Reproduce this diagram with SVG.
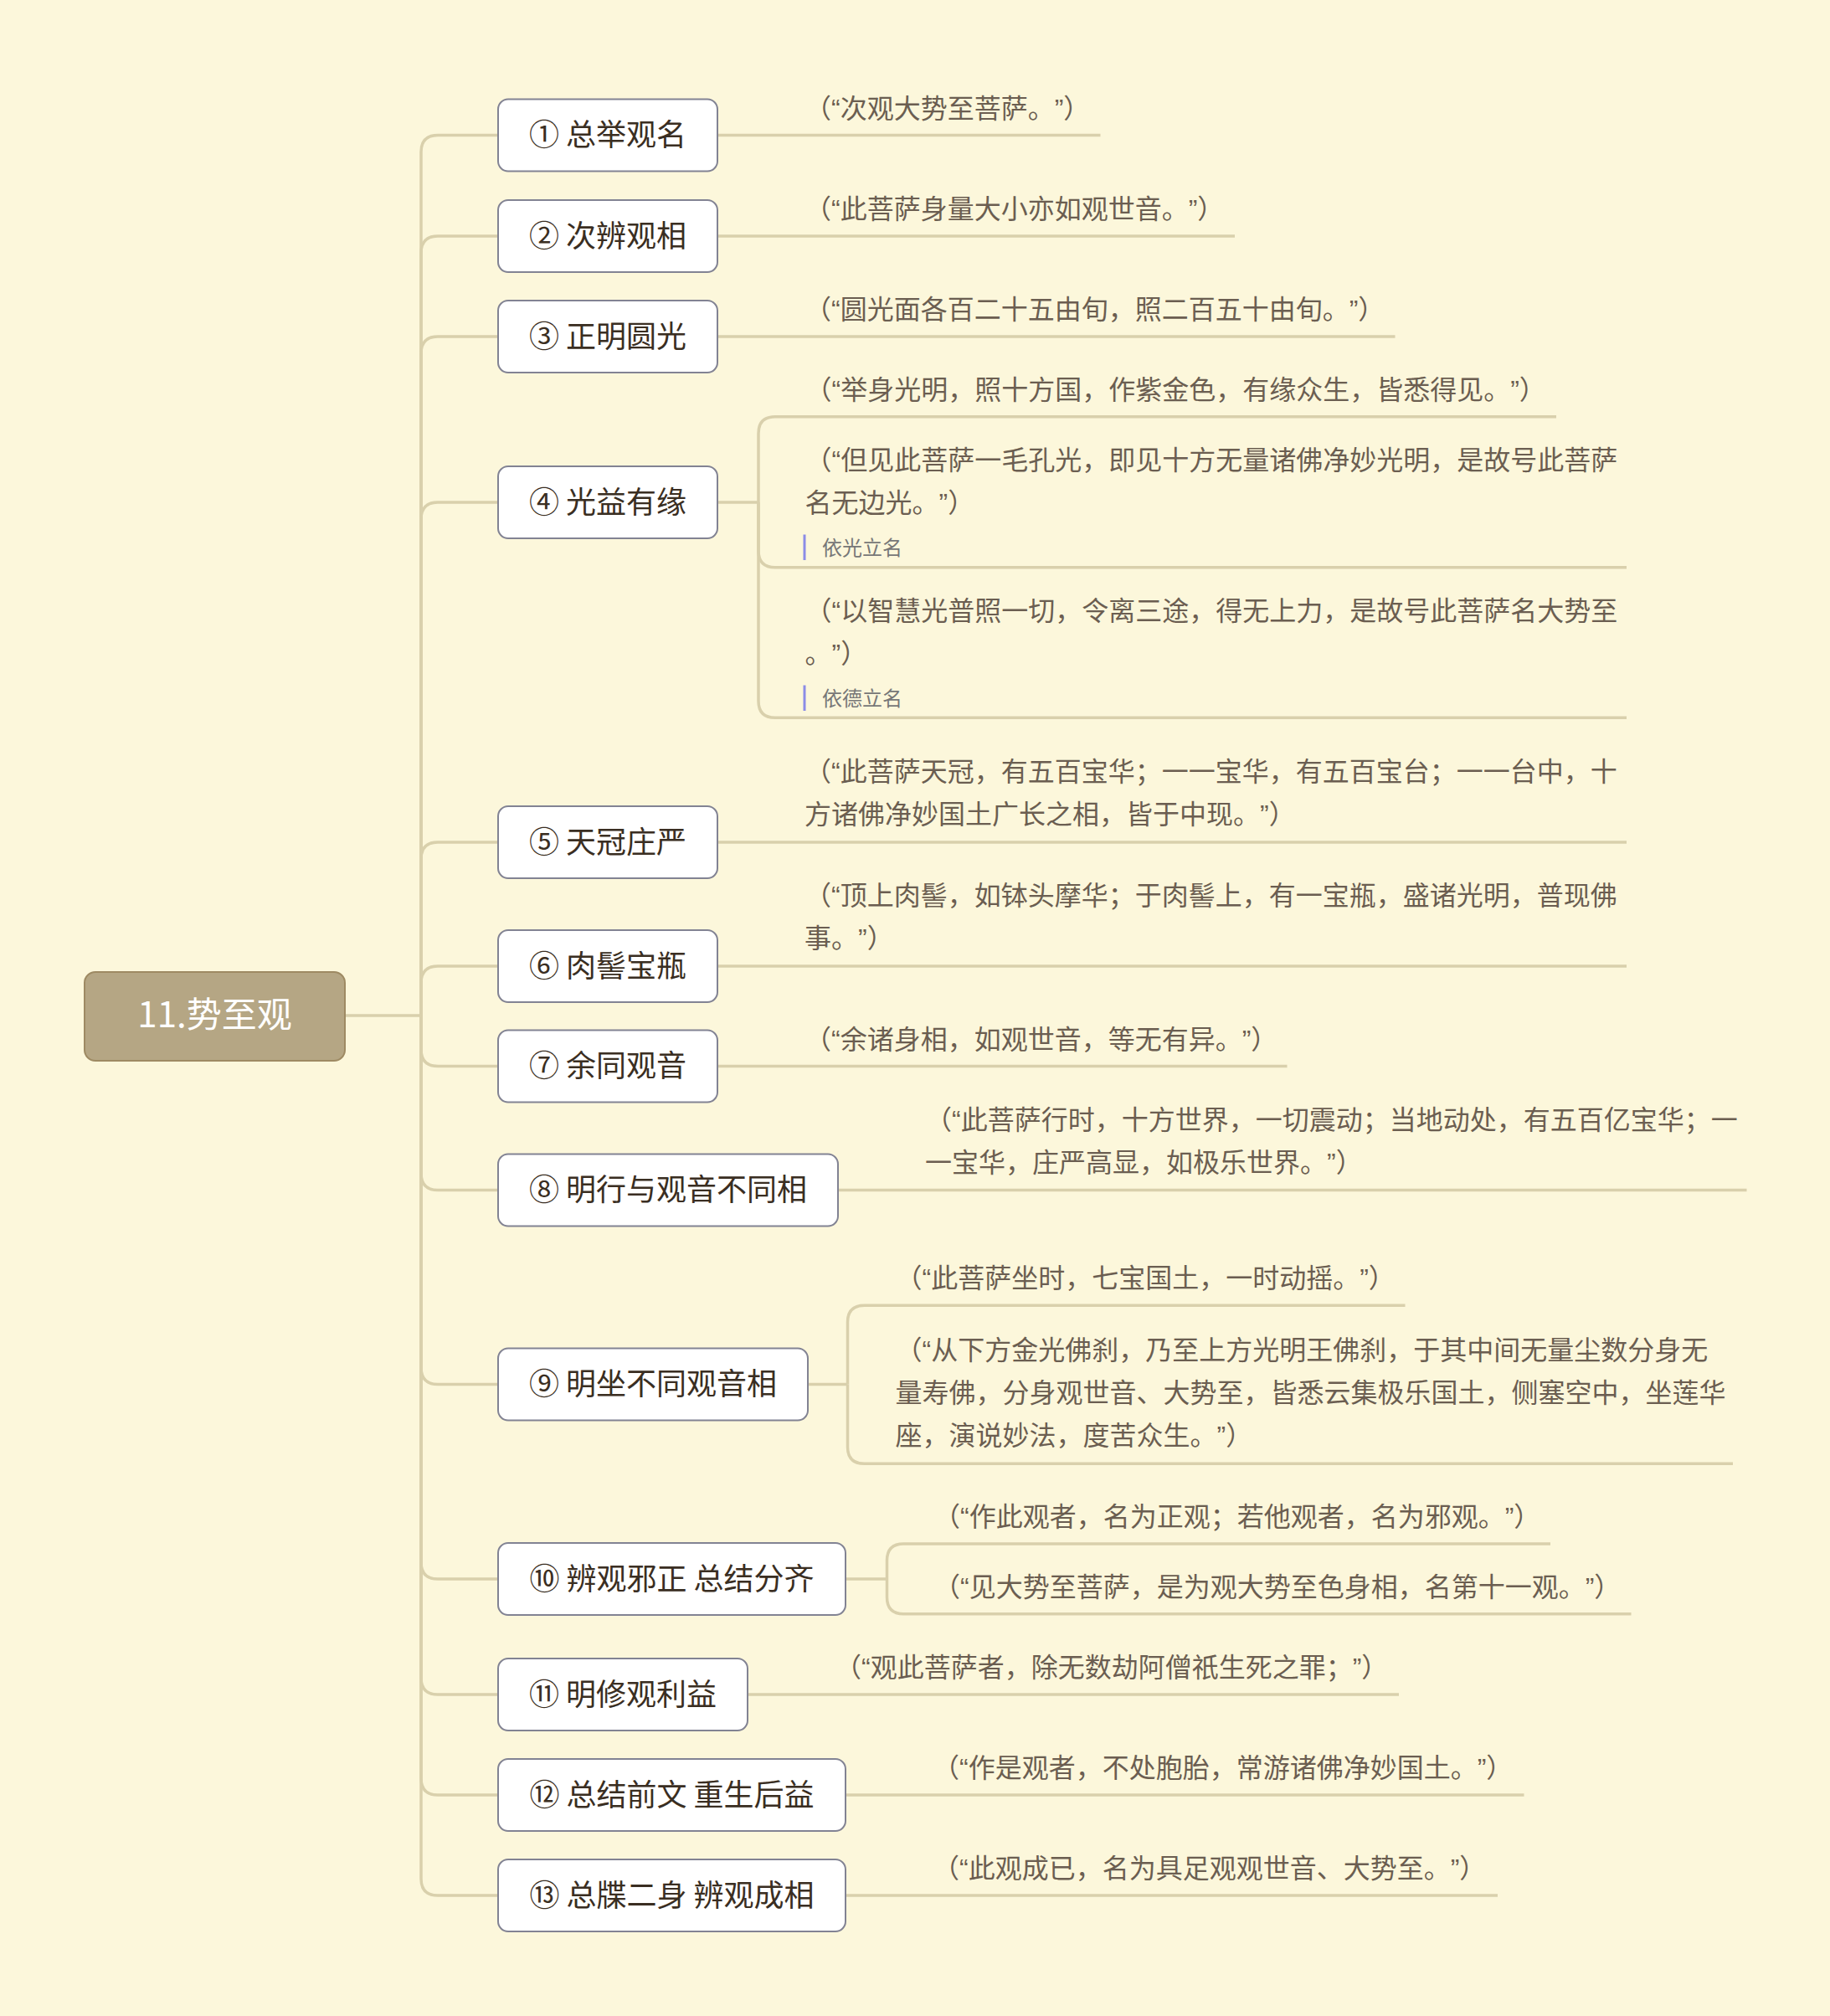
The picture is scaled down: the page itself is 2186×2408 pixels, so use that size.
<svg xmlns="http://www.w3.org/2000/svg" width="2186" height="2408" viewBox="0 0 2186 2408">
<style>
.bg{fill:#fcf7db}
.con{fill:none;stroke:#d9d0ac;stroke-width:3.5;stroke-linecap:butt}
.box{fill:#ffffff;stroke:#828393;stroke-width:2}
.bt{font-family:"Noto Sans CJK SC",sans-serif;font-size:36px;fill:#3a2e22;text-anchor:middle}
.lt{font-family:"Liberation Sans","Noto Sans CJK SC",sans-serif;font-size:32px;fill:#6b5e51;text-spacing-trim:space-all}
.lab{font-family:"Noto Sans CJK SC",sans-serif;font-size:24px;fill:#777777}
.bar{stroke:#8c8ce6;stroke-width:3}
.root{fill:#b5a684;stroke:#9e8a63;stroke-width:2}
.rt{font-family:"Noto Sans CJK SC",sans-serif;font-size:42px;fill:#ffffff;text-anchor:middle}
</style>
<rect class="bg" x="0" y="0" width="2186" height="2408"/>
<g id="connectors">
<path class="con" d="M412,1213 H503"/>
<path class="con" d="M503,1213 V181.5 Q503,161.5 523,161.5 H595"/>
<path class="con" d="M503,1213 V302 Q503,282 523,282 H595"/>
<path class="con" d="M503,1213 V422 Q503,402 523,402 H595"/>
<path class="con" d="M503,1213 V620 Q503,600 523,600 H595"/>
<path class="con" d="M503,1213 V1026 Q503,1006 523,1006 H595"/>
<path class="con" d="M503,1213 V1174 Q503,1154 523,1154 H595"/>
<path class="con" d="M503,1213 V1253.5 Q503,1273.5 523,1273.5 H595"/>
<path class="con" d="M503,1213 V1401.5 Q503,1421.5 523,1421.5 H595"/>
<path class="con" d="M503,1213 V1633.5 Q503,1653.5 523,1653.5 H595"/>
<path class="con" d="M503,1213 V1866 Q503,1886 523,1886 H595"/>
<path class="con" d="M503,1213 V2004 Q503,2024 523,2024 H595"/>
<path class="con" d="M503,1213 V2124 Q503,2144 523,2144 H595"/>
<path class="con" d="M503,1213 V2244 Q503,2264 523,2264 H595"/>
<path class="con" d="M857,161.5 H1314.5"/>
<path class="con" d="M857,282 H1475"/>
<path class="con" d="M857,402 H1666.5"/>
<path class="con" d="M857,600 H906"/>
<path class="con" d="M906,600 V517.7 Q906,497.7 926,497.7 H1859"/>
<path class="con" d="M906,600 V657.7 Q906,677.7 926,677.7 H1943"/>
<path class="con" d="M906,600 V837.3 Q906,857.3 926,857.3 H1943"/>
<path class="con" d="M857,1006 H1943"/>
<path class="con" d="M857,1154 H1943"/>
<path class="con" d="M857,1273.5 H1537.5"/>
<path class="con" d="M1001,1421.5 H2086.5"/>
<path class="con" d="M965,1653.5 H1012.5"/>
<path class="con" d="M1012.5,1653.5 V1579.3 Q1012.5,1559.3 1032.5,1559.3 H1678.5"/>
<path class="con" d="M1012.5,1653.5 V1728.3 Q1012.5,1748.3 1032.5,1748.3 H2070"/>
<path class="con" d="M1010,1886 H1059.5"/>
<path class="con" d="M1059.5,1886 V1864 Q1059.5,1844 1079.5,1844 H1852"/>
<path class="con" d="M1059.5,1886 V1907.7 Q1059.5,1927.7 1079.5,1927.7 H1948.5"/>
<path class="con" d="M893,2024 H1671"/>
<path class="con" d="M1010,2144 H1820.5"/>
<path class="con" d="M1010,2264 H1789"/>
</g>
<g id="root">
<rect class="root" x="101" y="1161" width="311" height="106" rx="13"/>
<text class="rt" x="256.5" y="1227">11.势至观</text>
</g>
<g id="n1"><rect class="box" x="595" y="118.5" width="262" height="86" rx="12"/><text class="bt" x="726" y="174">① 总举观名</text></g>
<g id="n2"><rect class="box" x="595" y="239" width="262" height="86" rx="12"/><text class="bt" x="726" y="294.5">② 次辨观相</text></g>
<g id="n3"><rect class="box" x="595" y="359" width="262" height="86" rx="12"/><text class="bt" x="726" y="414.5">③ 正明圆光</text></g>
<g id="n4"><rect class="box" x="595" y="557" width="262" height="86" rx="12"/><text class="bt" x="726" y="612.5">④ 光益有缘</text></g>
<g id="n5"><rect class="box" x="595" y="963" width="262" height="86" rx="12"/><text class="bt" x="726" y="1018.5">⑤ 天冠庄严</text></g>
<g id="n6"><rect class="box" x="595" y="1111" width="262" height="86" rx="12"/><text class="bt" x="726" y="1166.5">⑥ 肉髻宝瓶</text></g>
<g id="n7"><rect class="box" x="595" y="1230.5" width="262" height="86" rx="12"/><text class="bt" x="726" y="1286">⑦ 余同观音</text></g>
<g id="n8"><rect class="box" x="595" y="1378.5" width="406" height="86" rx="12"/><text class="bt" x="798" y="1434">⑧ 明行与观音不同相</text></g>
<g id="n9"><rect class="box" x="595" y="1610.5" width="370" height="86" rx="12"/><text class="bt" x="780" y="1666">⑨ 明坐不同观音相</text></g>
<g id="n10"><rect class="box" x="595" y="1843" width="415" height="86" rx="12"/><text class="bt" x="802.5" y="1898.5">⑩ 辨观邪正 总结分齐</text></g>
<g id="n11"><rect class="box" x="595" y="1981" width="298" height="86" rx="12"/><text class="bt" x="744" y="2036.5">⑪ 明修观利益</text></g>
<g id="n12"><rect class="box" x="595" y="2101" width="415" height="86" rx="12"/><text class="bt" x="802.5" y="2156.5">⑫ 总结前文 重生后益</text></g>
<g id="n13"><rect class="box" x="595" y="2221" width="415" height="86" rx="12"/><text class="bt" x="802.5" y="2276.5">⑬ 总牒二身 辨观成相</text></g>
<g id="l1"><text class="lt" x="961" y="140.5">（“次观大势至菩萨。”）</text></g>
<g id="l2"><text class="lt" x="961" y="261">（“此菩萨身量大小亦如观世音。”）</text></g>
<g id="l3"><text class="lt" x="961" y="381">（“圆光面各百二十五由旬，照二百五十由旬。”）</text></g>
<g id="l4a"><text class="lt" x="961.5" y="476.5">（“举身光明，照十方国，作紫金色，有缘众生，皆悉得见。”）</text></g>
<g id="l4b"><text class="lt" x="961.5" y="561">（“但见此菩萨一毛孔光，即见十方无量诸佛净妙光明，是故号此菩萨</text><text class="lt" x="961.5" y="612">名无边光。”）</text><line class="bar" x1="961" y1="638.5" x2="961" y2="669"/><text class="lab" x="982" y="663">依光立名</text></g>
<g id="l4c"><text class="lt" x="961.5" y="741">（“以智慧光普照一切，令离三途，得无上力，是故号此菩萨名大势至</text><text class="lt" x="961.5" y="792">。”）</text><line class="bar" x1="961" y1="818.5" x2="961" y2="849"/><text class="lab" x="982" y="843">依德立名</text></g>
<g id="l5"><text class="lt" x="961" y="933">（“此菩萨天冠，有五百宝华；一一宝华，有五百宝台；一一台中，十</text><text class="lt" x="961" y="984">方诸佛净妙国土广长之相，皆于中现。”）</text></g>
<g id="l6"><text class="lt" x="961" y="1081">（“顶上肉髻，如钵头摩华；于肉髻上，有一宝瓶，盛诸光明，普现佛</text><text class="lt" x="961" y="1132">事。”）</text></g>
<g id="l7"><text class="lt" x="961" y="1252.5">（“余诸身相，如观世音，等无有异。”）</text></g>
<g id="l8"><text class="lt" x="1105" y="1349">（“此菩萨行时，十方世界，一切震动；当地动处，有五百亿宝华；一</text><text class="lt" x="1105" y="1400">一宝华，庄严高显，如极乐世界。”）</text></g>
<g id="l9a"><text class="lt" x="1069.5" y="1538">（“此菩萨坐时，七宝国土，一时动摇。”）</text></g>
<g id="l9b"><text class="lt" x="1069.5" y="1624">（“从下方金光佛刹，乃至上方光明王佛刹，于其中间无量尘数分身无</text><text class="lt" x="1069.5" y="1675">量寿佛，分身观世音、大势至，皆悉云集极乐国土，侧塞空中，坐莲华</text><text class="lt" x="1069.5" y="1726">座，演说妙法，度苦众生。”）</text></g>
<g id="l10a"><text class="lt" x="1115" y="1822.5">（“作此观者，名为正观；若他观者，名为邪观。”）</text></g>
<g id="l10b"><text class="lt" x="1115" y="1906.5">（“见大势至菩萨，是为观大势至色身相，名第十一观。”）</text></g>
<g id="l11"><text class="lt" x="997" y="2003">（“观此菩萨者，除无数劫阿僧祇生死之罪；”）</text></g>
<g id="l12"><text class="lt" x="1114" y="2123">（“作是观者，不处胞胎，常游诸佛净妙国土。”）</text></g>
<g id="l13"><text class="lt" x="1114" y="2243">（“此观成已，名为具足观观世音、大势至。”）</text></g>
</svg>
